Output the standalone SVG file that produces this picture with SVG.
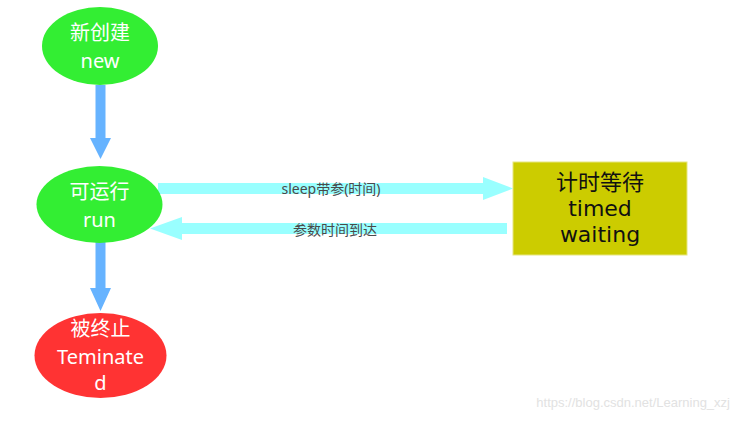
<svg xmlns="http://www.w3.org/2000/svg" width="741" height="422" viewBox="0 0 741 422">
<style>
.nt{font-family:"Noto Sans","Noto Sans CJK SC",sans-serif;font-size:20px;fill:#ffffff;text-anchor:middle}
.bt{font-family:"DejaVu Sans","Noto Sans CJK SC",sans-serif;font-size:22px;fill:#111111;text-anchor:middle}
.lbl{font-family:"Noto Sans","Noto Sans CJK SC",sans-serif;font-size:14px;fill:#4a4a4a;text-anchor:middle}
.down{fill:#66b3ff}
.side{fill:#99ffff}
</style>
<rect width="741" height="422" fill="#ffffff"/>
<g id="connectors">
  <polygon class="down" points="95.5,85 105.5,85 105.5,138 111,138 100.5,159 90,138 95.5,138"/>
  <polygon class="down" points="95.5,242 105.5,242 105.5,288 111,288 100.5,311 90,288 95.5,288"/>
  <polygon class="side" points="158,183 483,183 483,177 513,188.5 483,200 483,194 158,194"/>
  <polygon class="side" points="507,223 182,223 182,217 150,228.5 182,240 182,234 507,234"/>
  <text class="lbl" x="331" y="194">sleep带参(时间)</text>
  <text class="lbl" x="335" y="235">参数时间到达</text>
</g>
<g id="node-new">
  <ellipse cx="100" cy="46" rx="58" ry="39" fill="#33ee33"/>
  <text class="nt" x="100" y="40">新创建</text>
  <text class="nt" x="100" y="68">new</text>
</g>
<g id="node-run">
  <ellipse cx="99.5" cy="204.5" rx="63" ry="38.5" fill="#33ee33"/>
  <text class="nt" x="99.5" y="199">可运行</text>
  <text class="nt" x="99.5" y="227">run</text>
</g>
<g id="node-terminated">
  <ellipse cx="100.5" cy="355.5" rx="66" ry="42.5" fill="#ff3333"/>
  <text class="nt" x="100.5" y="336">被终止</text>
  <text class="nt" x="100.5" y="364" font-size="21">Teminate</text>
  <text class="nt" x="100.5" y="390" font-size="21">d</text>
</g>
<g id="node-timed-waiting">
  <rect x="513" y="162" width="174" height="93" fill="#cccc00" stroke="#e6e680" stroke-width="1"/>
  <text class="bt" x="600" y="190">计时等待</text>
  <text class="bt" x="600" y="216">timed</text>
  <text class="bt" x="600" y="242">waiting</text>
</g>
<text x="730" y="407" font-family="Liberation Sans, Arial, sans-serif" font-size="13" fill="#e2e2e2" text-anchor="end">https://blog.csdn.net/Learning_xzj</text>
</svg>
